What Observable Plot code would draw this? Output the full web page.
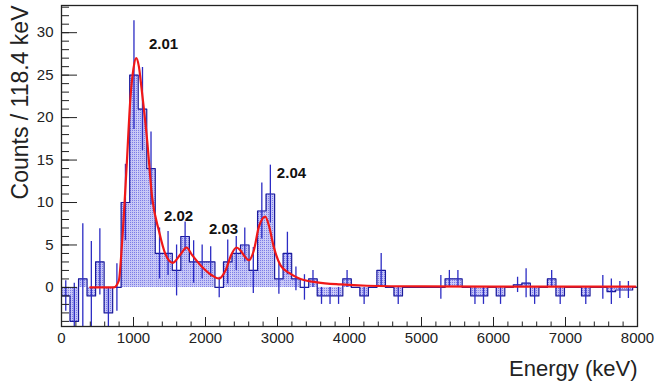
<!DOCTYPE html>
<html>
<head>
<meta charset="utf-8">
<script src="https://cdn.jsdelivr.net/npm/d3@7"></script>
<script src="https://cdn.jsdelivr.net/npm/@observablehq/plot@0.6"></script>
<style>
  html, body { margin: 0; padding: 0; background: #fff; }
</style>
</head>
<body>
<div id="chart"></div>
<script>
// Energy spectrum, 118.4 keV per bin starting at 0 keV
const binWidth = 118.4;
const counts = [
  -1, -4, 1, -1, 3, -3, 0, 10, 25, 21,
  14, 4, 4, 2, 6, 3, 3, 3, 0, 3,
  4, 5, 2, 9, 11, 1, 4, 1, 0, 1,
  -1, -1, -1, 1, 0, -1, 0, 2, 0, -1,
  0, 0, 0, 0, 0, 1, 1, 0, -1, -1,
  0, -1, 0, 0.3, 0.5, -1, 0, 1, -1, 0,
  0, -1, 0, 0, -0.5, -0.3, -0.3, 0
];
const errors = [
  1.8, 4.5, 6.5, 6.4, 3.9, 3, 2.8, 4.5, 6.4, 4.9,
  4.3, 3, 2.6, 3, 1.7, 2.5, 2, 1.8, 1.2, 2.6,
  2, 2, 2.7, 3.3, 3.4, 1.8, 2.5, 1.4, 1.5, 1,
  1, 1, 1, 1, 0, 1, 0, 2, 0, 1,
  0, 0, 0, 0, 1.4, 1, 1, 0, 1, 1,
  0, 1, 0, 0.9, 1.7, 1, 0, 1, 1, 0,
  0, 1, 0, 1.4, 1.5, 1, 1, 0
];

// Fitted model curve (keV, counts)
const fitEnergy = [400, 727, 796, 843, 903, 958, 1000, 1037, 1075, 1111, 1190, 1259, 1352, 1444, 1546,
  1653, 1736, 1815, 1954, 2093, 2185, 2278, 2361, 2430, 2486, 2550, 2602, 2671, 2740, 2830,
  2880, 2949, 3042, 3181, 3319, 3551, 3875, 4245, 5000, 6000, 7000, 7970];
const fitCounts = [0, 0, 0.8, 5.5, 14, 22.4, 25.8, 27, 26, 23.5, 17.3, 10.6, 6.7, 3.9, 2.9,
  3.9, 4.7, 3.8, 2.4, 1.4, 1.05, 2, 3.9, 4.7, 4.35, 3.6, 3.2, 4.35, 7.1, 8.35,
  7.3, 4.75, 2.6, 1.6, 1.0, 0.6, 0.35, 0.2, 0.12, 0.1, 0.1, 0.1];

// Peak annotations
const peakNames = ["2.01", "2.02", "2.03", "2.04"];
const peakEnergy = [1417, 1625, 2250, 3194];
const peakCounts = [28.6, 8.35, 6.9, 13.4];

// Axis ticks
const xMajor = [0, 1000, 2000, 3000, 4000, 5000, 6000, 7000, 8000];
const xMinor = d3.range(0, 8001, 200);
const yMajor = [0, 5, 10, 15, 20, 25, 30];
const yMinor = d3.range(-4, 34, 1);

const bins = counts.map((v, i) => ({
  x1: i * binWidth, x2: (i + 1) * binWidth, xc: (i + 0.5) * binWidth, v, e: errors[i]
}));
const outline = [{x: 0, y: 0}];
bins.forEach(b => { outline.push({x: b.x1, y: b.v}, {x: b.x2, y: b.v}); });
outline.push({x: bins[bins.length - 1].x2, y: 0});
const fit = fitEnergy.map((x, i) => ({x, y: fitCounts[i]}));
const peaks = peakNames.map((t, i) => ({t, x: peakEnergy[i], y: peakCounts[i]}));

const frameH = 386 - 5 - 60;
const frameW = 658 - 61 - 21;
const ink = "#222";

const svg = Plot.plot({
  width: 658,
  height: 386,
  marginLeft: 61,
  marginRight: 21,
  marginTop: 5,
  marginBottom: 60,
  x: {domain: [0, 8000]},
  y: {domain: [-4.6, 33.2]},
  style: {fontFamily: "'Liberation Sans', Arial, Helvetica, sans-serif", background: "#fff", color: ink},
  marks: [
    Plot.rectY(bins, {x1: "x1", x2: "x2", y1: 0, y2: "v", fill: "url(#dotfill)", clip: true}),
    Plot.line(outline, {x: "x", y: "y", stroke: "#1a1a9c", strokeWidth: 1.2, clip: true}),
    Plot.ruleX(bins.filter(b => b.e > 0), {x: "xc", y1: d => d.v - d.e, y2: d => d.v + d.e, stroke: "#2c2cc4", strokeWidth: 1.3, clip: true}),
    Plot.line(fit, {x: "x", y: "y", stroke: "#f01818", strokeWidth: 2.2, curve: "monotone-x", clip: true}),
    Plot.text(peaks, {x: "x", y: "y", text: "t", fontWeight: "bold", fontSize: 15, fill: "#111"}),
    // inward tick marks on the bottom and left edges
    Plot.tickX(xMinor, {x: d => d, insetTop: frameH - 4.5, stroke: ink}),
    Plot.tickX(xMajor, {x: d => d, insetTop: frameH - 9, stroke: ink}),
    Plot.tickY(yMinor, {y: d => d, insetRight: frameW - 8, stroke: ink}),
    Plot.tickY(yMajor, {y: d => d, insetRight: frameW - 16, stroke: ink}),
    Plot.frame({stroke: ink, strokeWidth: 1.3}),
    Plot.axisX({ticks: xMajor, tickSize: 0, tickPadding: 6, fontSize: 15, label: null, tickFormat: d => String(d)}),
    Plot.axisY({ticks: yMajor, tickSize: 0, tickPadding: 8, fontSize: 15, label: null, tickFormat: d => String(d)}),
    Plot.text(["Energy (keV)"], {frameAnchor: "bottom-right", textAnchor: "end", lineAnchor: "middle", dy: 42, fontSize: 22, fill: ink}),
    Plot.text(["Counts / 118.4 keV"], {frameAnchor: "top-left", rotate: -90, textAnchor: "end", lineAnchor: "middle", dx: -41, fontSize: 23, fill: ink})
  ]
});

// dotted fill pattern for the histogram area
const ns = "http://www.w3.org/2000/svg";
const defs = document.createElementNS(ns, "defs");
defs.innerHTML = '<pattern id="dotfill" width="2" height="2" patternUnits="userSpaceOnUse">' +
  '<rect width="2" height="2" fill="#c6c6f6"/><rect x="0" y="0" width="1" height="1" fill="#7c7ce6"/></pattern>';
svg.insertBefore(defs, svg.firstChild);

document.getElementById("chart").appendChild(svg);
</script>
</body>
</html>
